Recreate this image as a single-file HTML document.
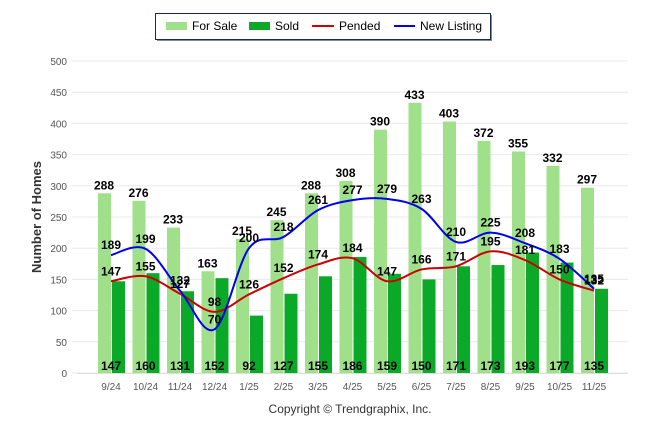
<!DOCTYPE html>
<html><head><meta charset="utf-8"><style>
body{margin:0;background:#fff;}
svg{display:block;font-family:"Liberation Sans",Arial,sans-serif;}
</style></head><body>
<svg id="c" width="646" height="434" xmlns="http://www.w3.org/2000/svg"></svg>
<script>
const fs=[288,276,233,163,215,245,288,308,390,433,403,372,355,332,297];
const sd=[147,160,131,152,92,127,155,186,159,150,171,173,193,177,135];
const pd=[147,155,127,98,126,152,174,184,147,166,171,195,181,150,132];
const nl=[189,199,132,70,200,218,261,277,279,263,210,225,208,183,135];
const lab=["9/24","10/24","11/24","12/24","1/25","2/25","3/25","4/25","5/25","6/25","7/25","8/25","9/25","10/25","11/25"];
const Y=v=>373-v*0.624, X=i=>111+i*34.5;
let s='';
for(let v=0;v<=500;v+=50){const y=Y(v);s+=`<line x1="72" x2="628" y1="${y}" y2="${y}" stroke="#e8e8e8"/>`;
s+=`<text x="67" y="${y+4}" font-size="10" fill="#555" text-anchor="end">${v}</text>`;}
s+=`<line x1="77" x2="628" y1="373.5" y2="373.5" stroke="#ddd"/>`;
for(let i=0;i<15;i++){const c=X(i);
s+=`<rect x="${c-13}" y="${Y(fs[i])}" width="13" height="${fs[i]*0.624}" fill="#a0e08a"/>`;
s+=`<rect x="${c+1}" y="${Y(sd[i])}" width="13" height="${sd[i]*0.624}" fill="#0aaa28"/>`;
s+=`<text x="${c}" y="390" font-size="10" fill="#555" text-anchor="middle">${lab[i]}</text>`;}
function path(d){let p=d.map((v,i)=>[X(i),Y(v)]);let o=`M${p[0][0]},${p[0][1]}`;
for(let i=0;i<p.length-1;i++){const p0=p[i-1]||p[i],p1=p[i],p2=p[i+1],p3=p[i+2]||p2;
o+=` C${p1[0]+(p2[0]-p0[0])/6},${p1[1]+(p2[1]-p0[1])/6} ${p2[0]-(p3[0]-p1[0])/6},${p2[1]-(p3[1]-p1[1])/6} ${p2[0]},${p2[1]}`;}return o;}
s+=`<path d="${path(pd)}" fill="none" stroke="#cc0000" stroke-width="2"/>`;
s+=`<path d="${path(nl)}" fill="none" stroke="#0000ee" stroke-width="2"/>`;
const t=(x,y,v)=>`<text x="${x}" y="${y}" font-size="12" font-weight="bold" text-anchor="middle" fill="#000">${v}</text>`;
for(let i=0;i<15;i++){const c=X(i);
s+=t(c-7,Y(fs[i])-4,fs[i]);s+=t(c,370,sd[i]);
s+=t(c,Y(pd[i])-6,pd[i]);s+=t(c,Y(nl[i])-6,nl[i]);}
s+=`<text transform="translate(41,217) rotate(-90)" font-size="13" font-weight="bold" fill="#333" text-anchor="middle">Number of Homes</text>`;
s+=`<text x="350" y="413" font-size="12" fill="#333" text-anchor="middle">Copyright © Trendgraphix, Inc.</text>`;
s+=`<rect x="157" y="15" width="335" height="26" fill="#888"/><rect x="155.5" y="13.5" width="335" height="26" fill="#fff" stroke="#1a2a4a"/>`;
s+=`<rect x="166" y="22" width="21" height="8" fill="#a0e08a"/><text x="192" y="30" font-size="12">For Sale</text>`;
s+=`<rect x="249" y="22" width="21" height="8" fill="#0aaa28"/><text x="275" y="30" font-size="12">Sold</text>`;
s+=`<line x1="312" x2="334" y1="26" y2="26" stroke="#cc0000" stroke-width="2"/><text x="339" y="30" font-size="12">Pended</text>`;
s+=`<line x1="394" x2="415" y1="26" y2="26" stroke="#0000ee" stroke-width="2"/><text x="420" y="30" font-size="12">New Listing</text>`;
document.getElementById('c').innerHTML=s;
</script>
</body></html>
